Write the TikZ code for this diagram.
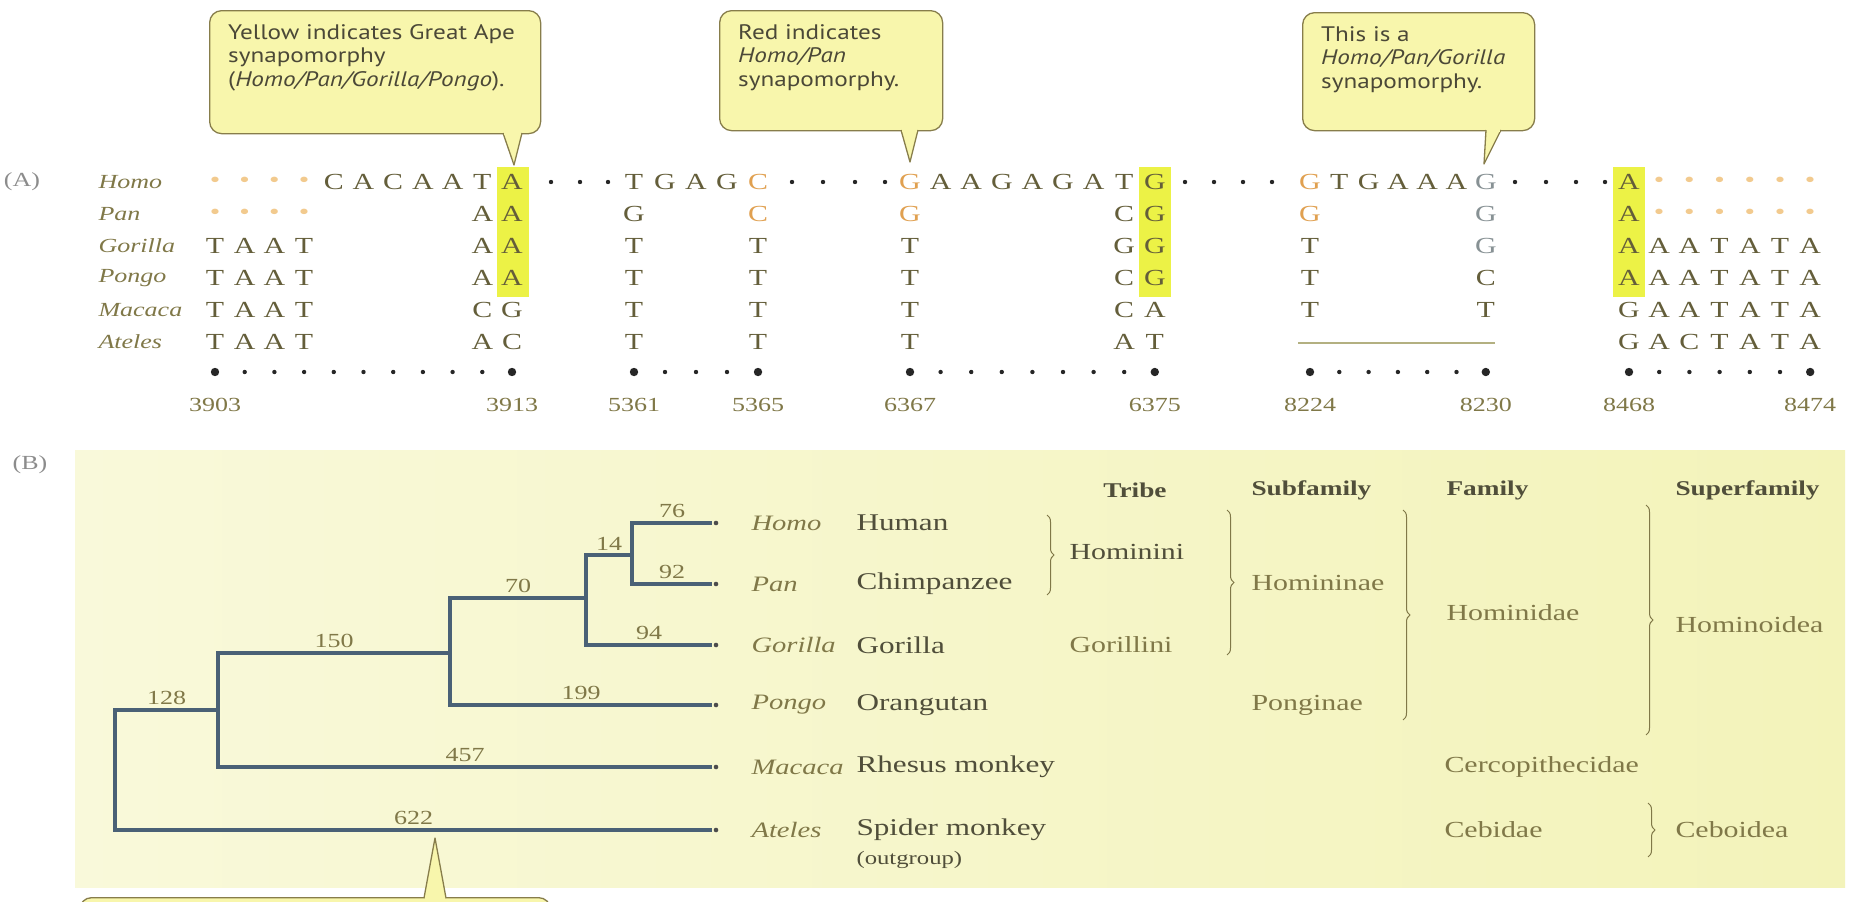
\documentclass[tikz,border=0pt]{standalone}
\usepackage{fontspec}
\setmainfont{Liberation Serif}[FakeStretch=1.3]
\newfontfamily\notefont{PT Sans}[FakeStretch=1.2]
\usetikzlibrary{positioning,calc,decorations.pathreplacing}

\definecolor{seqtext}{RGB}{100,94,58}
\definecolor{seqorange}{RGB}{224,160,80}
\definecolor{seqstar}{RGB}{242,202,142}
\definecolor{seqgray}{RGB}{135,145,148}
\definecolor{hilite}{RGB}{236,242,70}
\definecolor{notefill}{RGB}{248,246,172}
\definecolor{noteline}{RGB}{135,125,75}
\definecolor{notetext}{RGB}{75,72,55}
\definecolor{panelleft}{RGB}{249,249,218}
\definecolor{panelright}{RGB}{243,243,186}
\definecolor{treeblue}{RGB}{74,97,118}
\definecolor{olivetext}{RGB}{128,120,72}
\definecolor{darktext}{RGB}{80,78,58}

% one aligned base: * orange dot, c/g orange, q grey G, - gap
\newcommand{\seqchar}[1]{\if#1*\textcolor{seqstar}{\textbullet}\else\if#1c\textcolor{seqorange}{C}\else\if#1g\textcolor{seqorange}{G}\else\if#1q\textcolor{seqgray}{G}\else#1\fi\fi\fi\fi}
\newcommand{\seqblock}[4]{%
  \foreach \yy/\row in {#4} {
    \foreach \base [count=\k] in \row {
      \if\base-\else
        \node[seq] (#1-\yy-\k) at ({#2+(\k-1)*#3},\yy) {\seqchar\base};
      \fi
    }
  }}

\begin{document}
\begin{tikzpicture}[x=1pt,y=-1pt,
    seq/.style={font=\fontsize{23}{23}\selectfont, text=seqtext, inner sep=0pt},
    taxon/.style={font=\fontsize{20}{22}\selectfont\itshape, text=olivetext, anchor=west},
    pos label/.style={font=\fontsize{20}{22}\selectfont, text=olivetext},
    seqdot/.style={fill=black!85},
    notebox/.style={draw=noteline, line width=1.3, fill=notefill, rounded corners=12, anchor=north west},
    notetext/.style={font=\notefont\fontsize{21}{23.5}\selectfont, text=notetext, align=left, anchor=north west, inner sep=0pt},
    pointer/.style={fill=notefill, draw=noteline, line width=1.3, line join=round},
    branch/.style={draw=treeblue, line width=4},
    blen/.style={pos=0.75, above, inner sep=3pt, font=\fontsize{20}{22}\selectfont, text=olivetext},
    genus/.style={font=\fontsize{22}{24}\selectfont\itshape, text=olivetext, anchor=west},
    common/.style={font=\fontsize{24}{26}\selectfont, text=darktext, anchor=west},
    rank/.style={font=\fontsize{23}{25}\selectfont, text=olivetext, anchor=west},
    head/.style={font=\fontsize{21}{23}\selectfont\bfseries, text=darktext},
    rankbrace/.style={draw=olivetext, line width=1, decorate, decoration={brace, amplitude=7}}]
\useasboundingbox (0,0) rectangle (1850,902);
\clip (0,0) rectangle (1850,902);

% (A) alignment
\node[pos label, text=black!45] (alabel) at (22,182) {(A)};
\foreach \yy/\name in {182/Homo, 214/Pan, 246/Gorilla, 278/Pongo, 310/Macaca, 342/Ateles}
  \node[taxon] (sp-\name) at (95,\yy) {\name};

\fill[hilite] (497,167) rectangle (529,297);
\fill[hilite] (1139,167) rectangle (1171,297);
\fill[hilite] (1613,167) rectangle (1645,297);

\seqblock{b1}{215}{29.7}{182/{*,*,*,*,C,A,C,A,A,T,A}, 214/{*,*,*,*,-,-,-,-,-,A,A},
  246/{T,A,A,T,-,-,-,-,-,A,A}, 278/{T,A,A,T,-,-,-,-,-,A,A},
  310/{T,A,A,T,-,-,-,-,-,C,G}, 342/{T,A,A,T,-,-,-,-,-,A,C}}
\seqblock{b2}{634}{31}{182/{T,G,A,G,c}, 214/{G,-,-,-,c}, 246/{T,-,-,-,T},
  278/{T,-,-,-,T}, 310/{T,-,-,-,T}, 342/{T,-,-,-,T}}
\seqblock{b3}{910}{30.6}{182/{g,A,A,G,A,G,A,T,G}, 214/{g,-,-,-,-,-,-,C,G},
  246/{T,-,-,-,-,-,-,G,G}, 278/{T,-,-,-,-,-,-,C,G},
  310/{T,-,-,-,-,-,-,C,A}, 342/{T,-,-,-,-,-,-,A,T}}
\seqblock{b4}{1310}{29.3}{182/{g,T,G,A,A,A,q}, 214/{g,-,-,-,-,-,q},
  246/{T,-,-,-,-,-,q}, 278/{T,-,-,-,-,-,C}, 310/{T,-,-,-,-,-,T}}
\seqblock{b5}{1629}{30.2}{182/{A,*,*,*,*,*,*}, 214/{A,*,*,*,*,*,*},
  246/{A,A,A,T,A,T,A}, 278/{A,A,A,T,A,T,A},
  310/{G,A,A,T,A,T,A}, 342/{G,A,C,T,A,T,A}}
\draw[seqtext!45!panelright, line width=2.5] (1298,343) -- (1495,343);

% dots between the blocks
\foreach \xx in {551,580,608,792,823,855,885,1185,1214,1243,1272,1515,1546,1576,1605}
  \fill[seqdot] (\xx,182) circle (2.2);

% position ruler
\foreach \blk/\xo/\dx/\nc/\first/\last in {b1/215/29.7/11/3903/3913, b2/634/31/5/5361/5365,
    b3/910/30.6/9/6367/6375, b4/1310/29.3/7/8224/8230, b5/1629/30.2/7/8468/8474} {
  \foreach \k in {1,...,\nc} \fill[seqdot] ({\xo+(\k-1)*\dx},372) circle (2.2);
  \fill[seqdot] (\xo,372) circle (4.2);
  \fill[seqdot] ({\xo+(\nc-1)*\dx},372) circle (4.2);
  \node[pos label] (\blk-first) at (\xo,405) {\first};
  \node[pos label] (\blk-last) at ({\xo+(\nc-1)*\dx},405) {\last};
}

% notes
\node[notebox, minimum width=331, minimum height=123] (apenote) at (209,10) {};
\node[notetext] (apetext) at ([xshift=19,yshift=-14]apenote.north west)
  {Yellow indicates Great Ape\\synapomorphy\\(\textit{Homo/Pan/Gorilla/Pongo}).};
\coordinate (apetip) at (514,165);
\path[pointer] (503,133) -- (apetip) -- (522,133);
\fill[notefill] (504,130) rectangle (521,134.5);

\node[notebox, minimum width=223, minimum height=120] (pannote) at (719,10) {};
\node[notetext] (pantext) at ([xshift=19,yshift=-14]pannote.north west)
  {Red indicates\\\textit{Homo/Pan}\\synapomorphy.};
\coordinate (pantip) at (910,162);
\path[pointer] (901,130) -- (pantip) -- (918,130);
\fill[notefill] (902,127) rectangle (917,131.5);

\node[notebox, minimum width=232, minimum height=118] (gornote) at (1302,12) {};
\node[notetext] (gortext) at ([xshift=19,yshift=-14]gornote.north west)
  {This is a\\\textit{Homo/Pan/Gorilla}\\synapomorphy.};
\coordinate (gortip) at (1484,164);
\path[pointer] (1486,130) -- (gortip) -- (1501,130);
\fill[notefill] (1487,127) rectangle (1500,131.5);

% (B) tree
\node[pos label, text=black!45] (blabel) at (30,465) {(B)};
\shade[left color=panelleft, right color=panelright] (75,450) rectangle (1845,887);

\coordinate (homotip) at (712,523);
\coordinate (pantip2) at (712,584);
\coordinate (gortip2) at (712,645);
\coordinate (pontip) at (712,705);
\coordinate (mactip) at (712,767);
\coordinate (atetip) at (712,830);
\coordinate (hp) at (632,555);
\coordinate (hpg) at (586,598);
\coordinate (hpgo) at (450,653);
\coordinate (catar) at (218,710);
\coordinate (root) at (115,770);

\draw[branch] (hp) |- node[blen]{76} (homotip);
\draw[branch] (hp) |- node[blen]{92} (pantip2);
\draw[branch] (hpg) |- node[blen]{14} (hp);
\draw[branch] (hpg) |- node[blen]{94} (gortip2);
\draw[branch] (hpgo) |- node[blen]{70} (hpg);
\draw[branch] (hpgo) |- node[blen]{199} (pontip);
\draw[branch] (catar) |- node[blen]{150} (hpgo);
\draw[branch] (catar) |- node[blen]{457} (mactip);
\draw[branch] (root) |- node[blen]{128} (catar);
\draw[branch] (root) |- node[blen]{622} (atetip);
\foreach \t in {homotip,pantip2,gortip2,pontip,mactip,atetip}
  \fill[black!70] ([xshift=4]\t) circle (2.3);

\foreach \yy/\gen/\com in {523/Homo/Human, 584/Pan/Chimpanzee, 645/Gorilla/Gorilla,
    705/Pongo/Orangutan, 767/Macaca/Rhesus monkey, 830/Ateles/Spider monkey} {
  \node[genus] (g-\gen) at (748,\yy) {\gen};
  \node[common] (c-\gen) at (853,\yy) {\com};
}
\node[common, font=\fontsize{19}{21}\selectfont] (outgroup) at (853,860) {(outgroup)};

\node[head] (tribe) at (1135,490) {Tribe};
\node[head, anchor=west] (subfam) at (1248,490) {Subfamily};
\node[head, anchor=west] (fam) at (1443,490) {Family};
\node[head, anchor=west] (superfam) at (1672,490) {Superfamily};

\node[rank, text=darktext] (hominini) at (1066,552) {Hominini};
\node[rank] (gorillini) at (1066,645) {Gorillini};
\node[rank] (homininae) at (1248,583) {Homininae};
\node[rank] (ponginae) at (1248,705) {Ponginae};
\node[rank] (hominidae) at (1443,613) {Hominidae};
\node[rank] (cercop) at (1441,767) {Cercopithecidae};
\node[rank] (cebidae) at (1441,830) {Cebidae};
\node[rank] (hominoidea) at (1672,625) {Hominoidea};
\node[rank] (ceboidea) at (1672,830) {Ceboidea};

\draw[rankbrace] (1047,515) -- (1047,595);
\draw[rankbrace] (1227,510) -- (1227,655);
\draw[rankbrace] (1403,510) -- (1403,720);
\draw[rankbrace] (1646,505) -- (1646,735);
\draw[rankbrace] (1648,803) -- (1648,857);

% note below the tree
\node[notebox, minimum width=471, minimum height=90] (outnote) at (79,897) {};
\coordinate (outtip) at (435,838);
\path[pointer] (424,898) -- (outtip) -- (446,898);
\fill[notefill] (425,897) rectangle (445,901);
\end{tikzpicture}
\end{document}
